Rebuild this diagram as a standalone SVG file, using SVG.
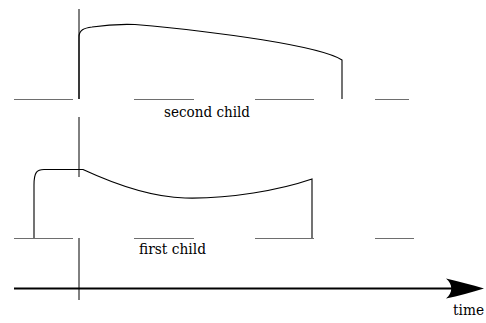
<svg xmlns="http://www.w3.org/2000/svg" width="486" height="323" viewBox="0 0 486 323">
<style>
.base{stroke:#6e6e6e;stroke-width:1.2;fill:none}
.mark{stroke:#000;stroke-width:1;fill:none}
.curve{stroke:#000;stroke-width:1.1;fill:none}
.axis{stroke:#000;stroke-width:2;fill:none}
.lbl{font-family:"DejaVu Serif","Liberation Serif",serif;font-size:15px;fill:#000}
</style>
<rect width="486" height="323" fill="#fff"/>
<g id="second-child">
<path class="base" d="M14,99.5H73M134,99.5H194M255,99.5H314M375,99.5H409"/>
<path class="curve" d="M79,99 V37 C79,30 84,28 92,27 C105,25 120,24 135,24.5 C220,32 320,46 342,60 V99"/>
<text class="lbl" x="164" y="116.5" textLength="86" lengthAdjust="spacingAndGlyphs">second child</text>
</g>
<g id="first-child">
<path class="base" d="M14,238.5H73M134,238.5H194M255,238.5H314M375,238.5H414"/>
<path class="curve" d="M34,238 V185 C34,172 37,169.5 44,169.5 H83 C110,182 150,197 185,198 C230,199 280,190 312,179 V238"/>
<text class="lbl" x="139" y="254" textLength="67" lengthAdjust="spacingAndGlyphs">first child</text>
</g>
<g id="markers">
<path class="mark" d="M79,9V99M79,117V177M79,238V300"/>
</g>
<g id="connectors">
<path class="axis" d="M14,288.5H458"/>
<path d="M484,288.5 C472,285 458,281 446,278.5 C453,284 453,293 446,298.5 C458,296 472,292 484,288.5 Z" fill="#000"/>
<text class="lbl" x="453" y="315" textLength="31" lengthAdjust="spacingAndGlyphs">time</text>
</g>
</svg>
